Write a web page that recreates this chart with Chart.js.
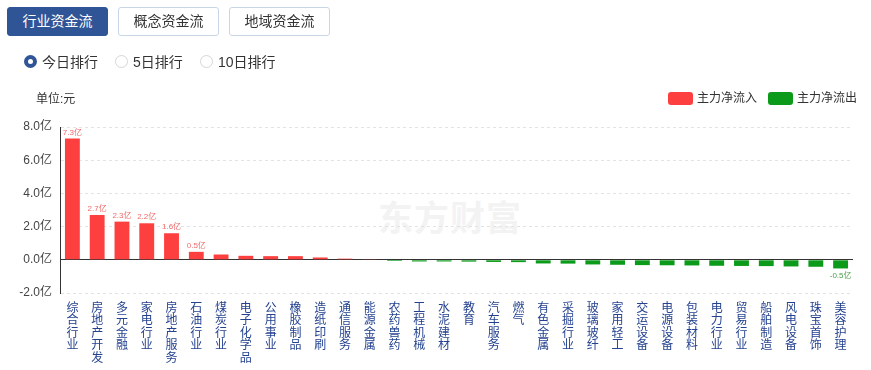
<!DOCTYPE html>
<html>
<head>
<meta charset="utf-8">
<script src="https://cdn.jsdelivr.net/npm/chart.js@4/dist/chart.umd.min.js"></script>
<style>
  html, body { margin: 0; padding: 0; background: #fff; }
  body { width: 871px; height: 370px; position: relative; overflow: hidden;
         font-family: "Liberation Sans", "Noto Sans CJK SC", sans-serif; color: #333; }
  .tab { position: absolute; top: 7px; width: 99px; height: 27px; border: 1px solid #c9d6e8;
         border-radius: 3px; font-size: 14px; line-height: 27px; text-align: center; color: #333; background: #fff; z-index: 2; }
  .tab.active { background: #2f5597; border-color: #2f5597; color: #fff; }
  .radio { position: absolute; top: 55px; width: 11px; height: 11px; border-radius: 50%; border: 1px solid #d5d5d5; background: #fff; z-index: 2; }
  .radio.on { border: 4px solid #2f5597; width: 5px; height: 5px; }
  .rtxt { position: absolute; top: 52px; font-size: 14px; line-height: 20px; color: #333; z-index: 2; }
  .unit { position: absolute; left: 36px; top: 91px; font-size: 12px; line-height: 16px; color: #333; z-index: 2; }
  .lg-box { position: absolute; top: 92px; width: 25px; height: 13px; border-radius: 3px; z-index: 2; }
  .lg-txt { position: absolute; top: 90px; font-size: 12px; line-height: 16px; color: #333; z-index: 2; }
  .wm { position: absolute; left: 378px; top: 196px; font-size: 35px; font-weight: bold; color: #f3f3f3;
        font-family: "Noto Sans CJK SC", sans-serif; line-height: 40px; z-index: 0; letter-spacing: 1px; }
  canvas { position: absolute; left: 0; top: 0; z-index: 1; }
</style>
</head>
<body>
<div class="tab active" style="left:7px;">行业资金流</div>
<div class="tab" style="left:118px;">概念资金流</div>
<div class="tab" style="left:229px;">地域资金流</div>

<div class="radio on" style="left:24px;"></div>
<div class="rtxt" style="left:42px;">今日排行</div>
<div class="radio" style="left:115px;"></div>
<div class="rtxt" style="left:133px;">5日排行</div>
<div class="radio" style="left:200px;"></div>
<div class="rtxt" style="left:218px;">10日排行</div>

<div class="unit">单位:元</div>
<div class="lg-box" style="left:668px;background:#fe3f3f;"></div>
<div class="lg-txt" style="left:697px;">主力净流入</div>
<div class="lg-box" style="left:768px;background:#0c9a1a;"></div>
<div class="lg-txt" style="left:797px;">主力净流出</div>

<div class="wm">东方财富</div>

<canvas id="c" width="871" height="370"></canvas>
<script>
// ---- data ----
const categories = ["综合行业","房地产开发","多元金融","家电行业","房地产服务","石油行业","煤炭行业","电子化学品",
  "公用事业","橡胶制品","造纸印刷","通信服务","能源金属","农药兽药","工程机械","水泥建材","教育","汽车服务","燃气",
  "有色金属","采掘行业","玻璃玻纤","家用轻工","交运设备","电源设备","包装材料","电力行业","贸易行业","船舶制造",
  "风电设备","珠宝首饰","美容护理"];
const netFlow = [7.3, 2.7, 2.3, 2.2, 1.6, 0.48, 0.32, 0.24, 0.22, 0.22, 0.14, 0.07, 0.02, -0.07, -0.1, -0.1, -0.11,
  -0.13, -0.14, -0.22, -0.23, -0.28, -0.3, -0.32, -0.33, -0.34, -0.36, -0.37, -0.38, -0.4, -0.42, -0.52];
const yTicks = [-2, 0, 2, 4, 6, 8];
const seriesNames = ["主力净流入", "主力净流出"];

const inflow = netFlow.map(v => v >= 0 ? v : null);
const outflow = netFlow.map(v => v < 0 ? v : null);

const valueLabels = {
  id: 'valueLabels',
  afterDatasetsDraw(chart) {
    const ctx = chart.ctx;
    ctx.save();
    ctx.font = '8px "Liberation Sans", "Noto Sans CJK SC", sans-serif';
    ctx.textAlign = 'center';
    chart.data.datasets.forEach((ds, di) => {
      const meta = chart.getDatasetMeta(di);
      meta.data.forEach((bar, i) => {
        const v = ds.data[i];
        if (v === null || Math.abs(v) < 0.45) return;
        const txt = v.toFixed(1) + '亿';
        if (v > 0) {
          ctx.fillStyle = '#f06a6a';
          ctx.textBaseline = 'bottom';
          ctx.fillText(txt, bar.x, bar.y - 2);
        } else {
          ctx.fillStyle = '#4aa04a';
          ctx.textBaseline = 'top';
          ctx.fillText(txt, bar.x, bar.y + 3);
        }
      });
    });
    ctx.restore();
  }
};

new Chart(document.getElementById('c'), {
  type: 'bar',
  data: {
    labels: categories.map(s => s.split('')),
    datasets: [
      { label: seriesNames[0], data: inflow, backgroundColor: '#fe3f3f', barPercentage: 0.6, categoryPercentage: 1 },
      { label: seriesNames[1], data: outflow, backgroundColor: '#0c9a1a', barPercentage: 0.6, categoryPercentage: 1 }
    ]
  },
  options: {
    responsive: false,
    animation: false,
    devicePixelRatio: 1,
    layout: { padding: { top: 127, left: 0, right: 18, bottom: 0 } },
    plugins: { legend: { display: false }, tooltip: { enabled: false } },
    scales: {
      x: {
        stacked: true,
        grid: { display: false, drawTicks: false },
        border: { display: false },
        ticks: {
          autoSkip: false, maxRotation: 0, minRotation: 0, padding: 8,
          color: '#24428f',
          font: { size: 12, family: '"Noto Sans CJK SC", sans-serif', lineHeight: 1.04 }
        },
        afterFit(scale) { scale.height = 77; }
      },
      y: {
        stacked: true,
        min: yTicks[0], max: yTicks[yTicks.length - 1],
        afterBuildTicks(scale) { scale.ticks = yTicks.map(v => ({ value: v })); },
        grid: {
          drawTicks: false,
          color: ctx => (ctx.tick && ctx.tick.value === 0) ? '#333' : '#e3e3e3',
          lineWidth: 1
        },
        border: {
          display: true, color: '#333', width: 1,
          dash: ctx => (ctx.tick && ctx.tick.value !== 0) ? [3, 3] : []
        },
        ticks: {
          padding: 8, color: '#444',
          font: { size: 12, family: '"Liberation Sans", "Noto Sans CJK SC", sans-serif' },
          callback: v => v.toFixed(1) + '亿'
        },
        afterFit(scale) { scale.width = 60; }
      }
    }
  },
  plugins: [valueLabels]
});
</script>
</body>
</html>
